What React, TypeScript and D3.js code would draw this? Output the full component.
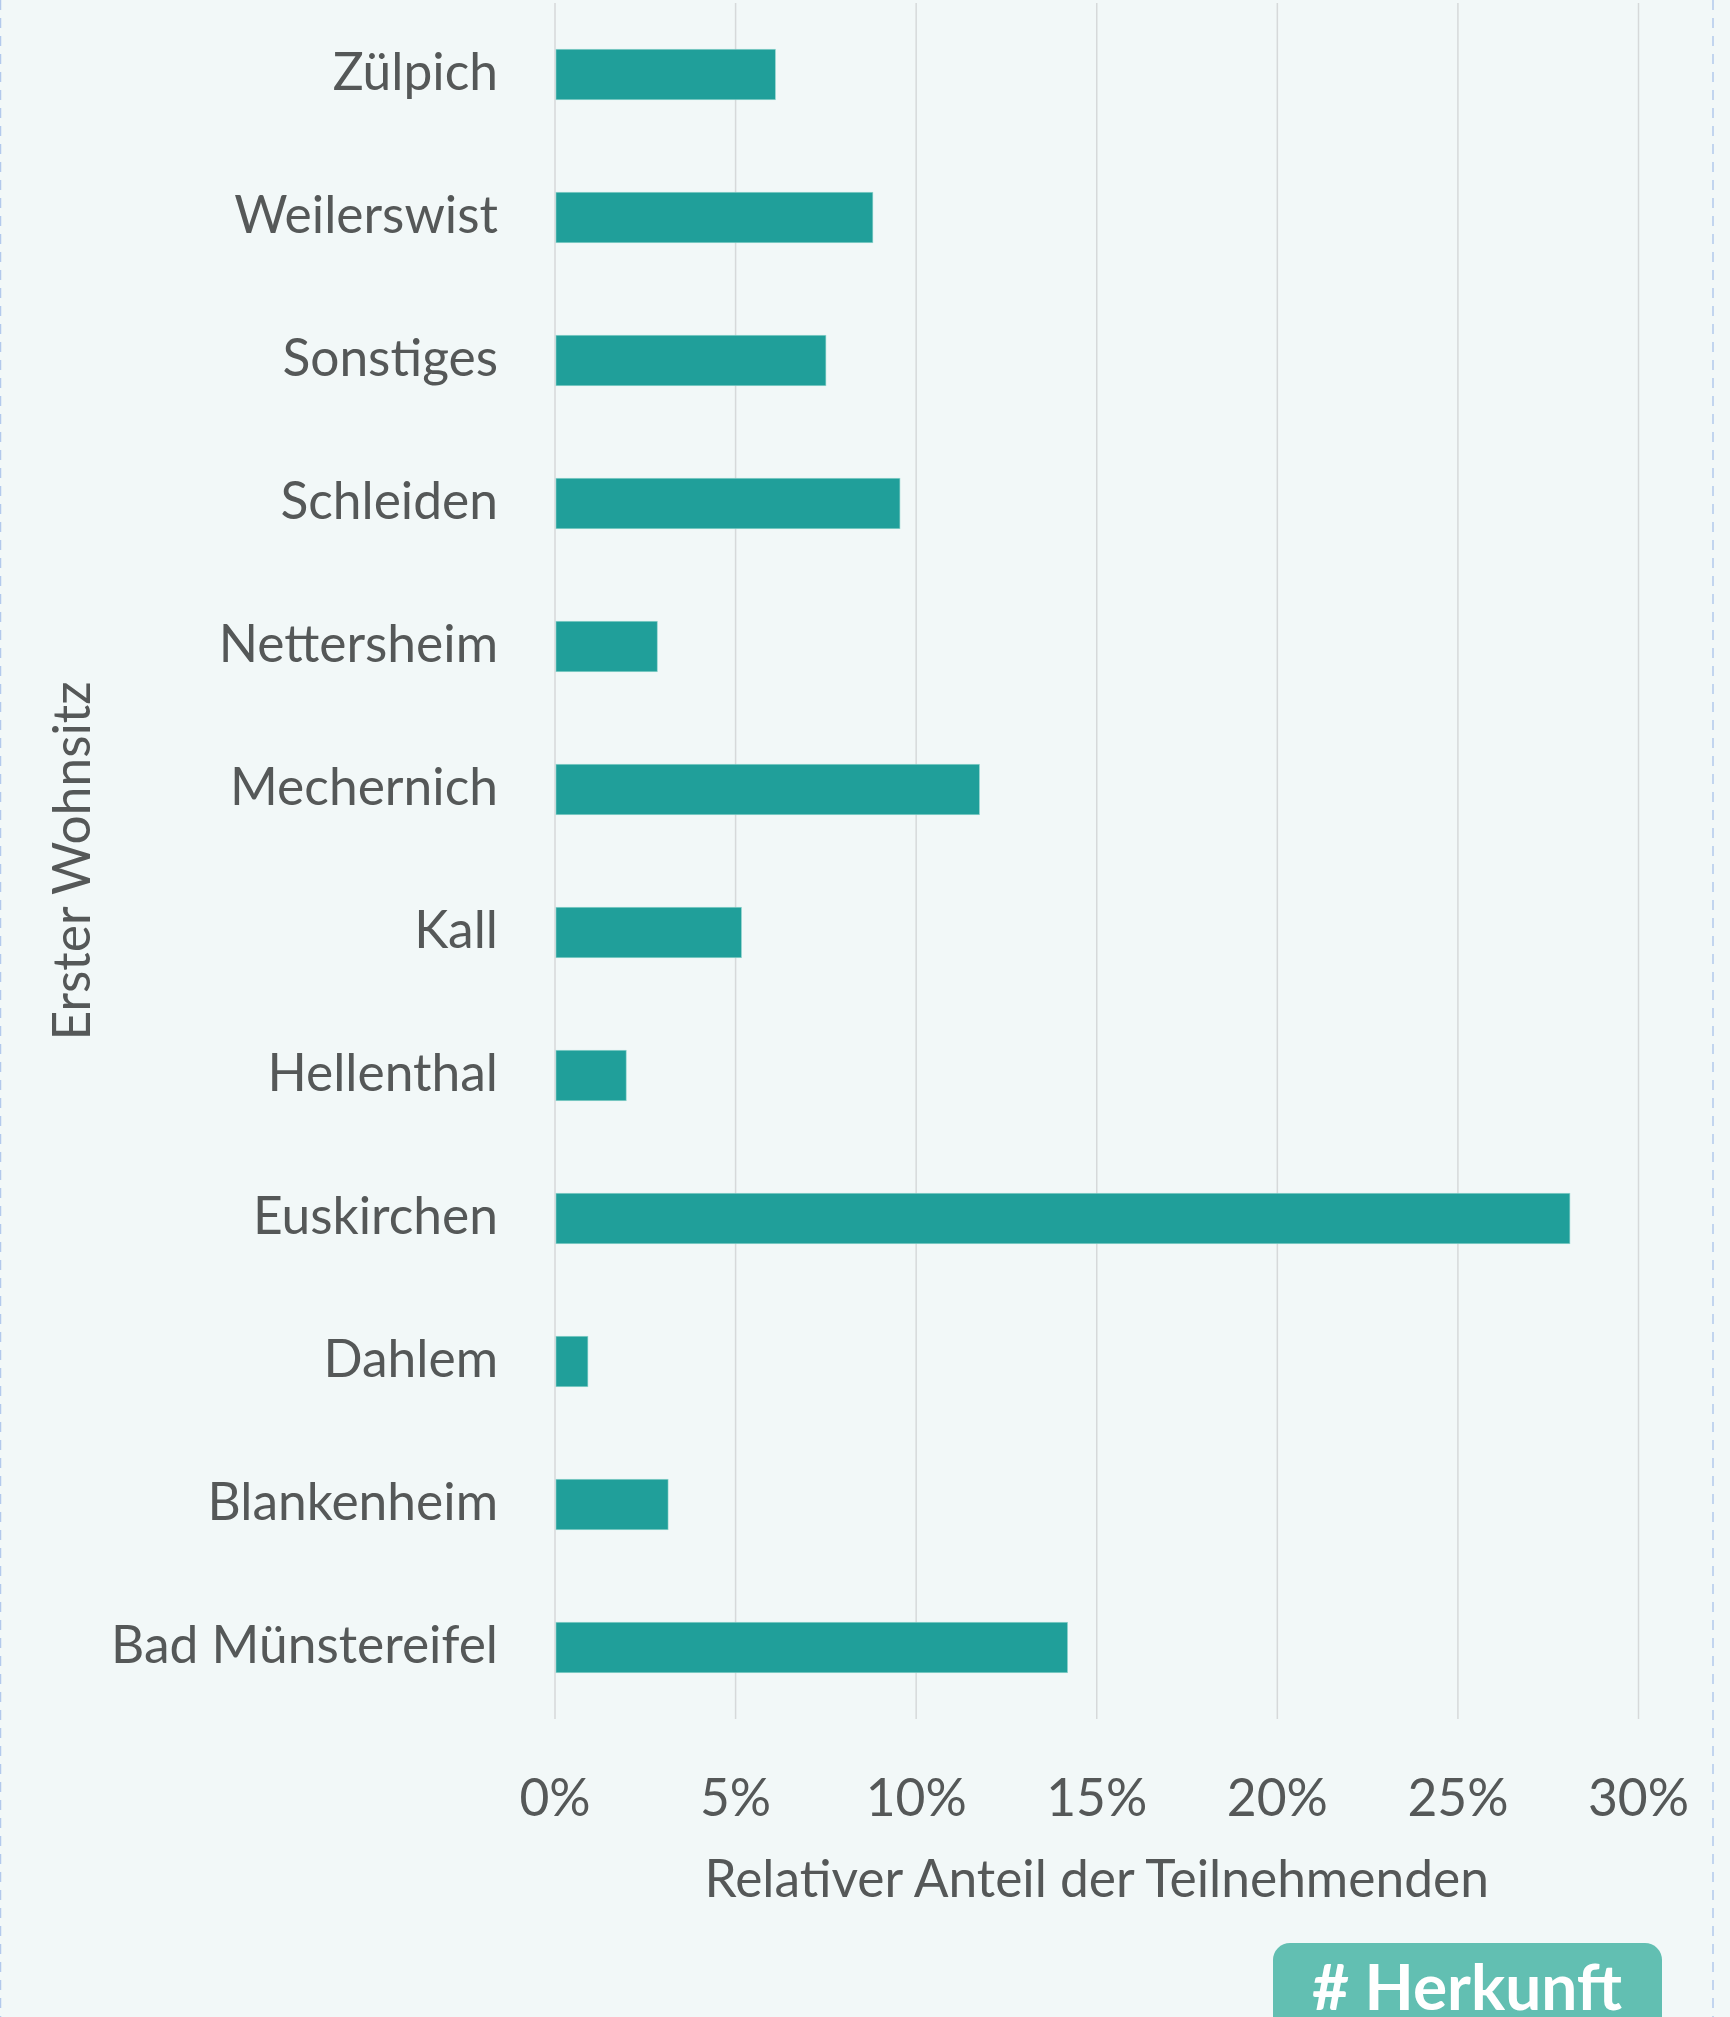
import React, { useEffect } from "react";
import * as d3 from "d3";

// categories top to bottom
const orte = [
  "Zülpich",
  "Weilerswist",
  "Sonstiges",
  "Schleiden",
  "Nettersheim",
  "Mechernich",
  "Kall",
  "Hellenthal",
  "Euskirchen",
  "Dahlem",
  "Blankenheim",
  "Bad Münstereifel",
];

// relative share in percent
const anteile = [6.1, 8.8, 7.5, 9.55, 2.83, 11.75, 5.16, 1.97, 28.1, 0.91, 3.13, 14.19];

const xTicks = [0, 5, 10, 15, 20, 25, 30];

const xTitle = "Relativer Anteil der Teilnehmenden";
const yTitle = "Erster Wohnsitz";
const badge = "# Herkunft";

const W = 1730;
const H = 2017;
const font = "Lato, 'Open Sans', sans-serif";
const fs = 51.5;
const textColor = "#555858";

export default function App() {
  useEffect(() => {
    document.body.style.margin = "0";
    document.body.style.background = "#f2f8f8";
  }, []);

  const x = d3.scaleLinear().domain([0, 30]).range([555, 1638.5]);
  const y = d3
    .scaleBand<string>()
    .domain(orte)
    .range([3, 1719])
    .paddingInner(0.647)
    .paddingOuter(0.3235);

  return (
    <svg width={W} height={H} style={{ display: "block" }}>
      <rect x={0} y={0} width={W} height={H} fill="#f2f8f8" />

      {/* dashed frame lines */}
      <line x1={0.5} x2={0.5} y1={0} y2={H} stroke="#b3c9ec" strokeWidth={1.5} strokeDasharray="10 8" />
      <line x1={1713} x2={1713} y1={0} y2={H} stroke="#b3c9ec" strokeWidth={1.5} strokeDasharray="10 8" />

      {/* grid */}
      {xTicks.map((t) => (
        <line key={t} x1={x(t)} x2={x(t)} y1={3} y2={1719} stroke="#d6d9da" strokeWidth={1.5} />
      ))}

      {/* bars */}
      {orte.map((o, i) => (
        <rect
          key={o}
          x={x(0) + 1}
          y={y(o)}
          width={x(anteile[i]) - x(0) - 1}
          height={y.bandwidth()}
          fill="#209f9a"
          stroke="#8fd3cc"
          strokeWidth={0.6}
        />
      ))}

      {/* category labels */}
      {orte.map((o) => (
        <text
          key={o}
          x={498}
          y={(y(o) as number) + y.bandwidth() / 2}
          dy="0.31em"
          textAnchor="end"
          fontFamily={font}
          fontSize={fs}
          fill={textColor}
        >
          {o}
        </text>
      ))}

      {/* x tick labels */}
      {xTicks.map((t) => (
        <text
          key={t}
          x={x(t)}
          y={1816}
          textAnchor="middle"
          fontFamily={font}
          fontSize={fs}
          fill={textColor}
        >
          {t + "%"}
        </text>
      ))}

      <text x={(x(0) + x(30)) / 2} y={1897} textAnchor="middle" fontFamily={font} fontSize={fs} fill={textColor}>
        {xTitle}
      </text>

      <text
        transform={`translate(90, 861) rotate(-90)`}
        textAnchor="middle"
        fontFamily={font}
        fontSize={fs}
        fill={textColor}
      >
        {yTitle}
      </text>

      {/* tag badge, cut off at the bottom edge as in the source */}
      <rect x={1273} y={1943} width={389} height={120} rx={17} fill="#62bfb2" />
      <text x={1467} y={2010} textAnchor="middle" fontFamily={font} fontSize={64} fontWeight={700} fill="#ffffff">
        {badge}
      </text>
    </svg>
  );
}
